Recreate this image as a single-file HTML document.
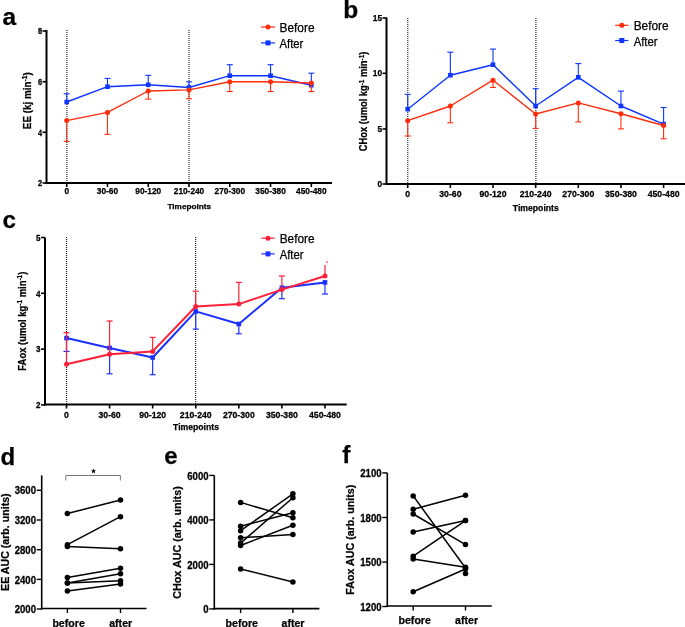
<!DOCTYPE html><html><head><meta charset="utf-8"><style>html,body{margin:0;padding:0;background:#fff;overflow:hidden}svg{display:block;will-change:transform}text{font-family:"Liberation Sans",sans-serif;stroke:#000;stroke-width:0.25px}</style></head><body>
<svg width="685" height="627" viewBox="0 0 685 627">
<rect width="685" height="627" fill="#fff"/>
<text x="2.50" y="25.30" font-size="24.5" text-anchor="start" font-weight="bold" fill="#000" >a</text>
<text x="343.30" y="18.00" font-size="24.5" text-anchor="start" font-weight="bold" fill="#000" >b</text>
<text x="2.50" y="228.40" font-size="24.2" text-anchor="start" font-weight="bold" fill="#000" >c</text>
<text x="0.50" y="465.30" font-size="24" text-anchor="start" font-weight="bold" fill="#000" >d</text>
<text x="164.30" y="463.90" font-size="24" text-anchor="start" font-weight="bold" fill="#000" >e</text>
<text x="342.20" y="462.70" font-size="24.5" text-anchor="start" font-weight="bold" fill="#000" >f</text>
<line x1="66.90" y1="30.00" x2="66.90" y2="183.00" stroke="#000" stroke-width="1" stroke-dasharray="1 1"/>
<line x1="189.00" y1="30.00" x2="189.00" y2="183.00" stroke="#000" stroke-width="1" stroke-dasharray="1 1"/>
<line x1="46.50" y1="30.00" x2="46.50" y2="184.00" stroke="#000" stroke-width="2" />
<line x1="45.50" y1="183.00" x2="332.00" y2="183.00" stroke="#000" stroke-width="2" />
<line x1="42.50" y1="31.00" x2="46.50" y2="31.00" stroke="#000" stroke-width="1.6" />
<text x="0" y="0" font-size="7.4" text-anchor="end" font-weight="bold" fill="#000" transform="translate(42.00 34.45) scale(1 1.22)" >8</text>
<line x1="42.50" y1="81.70" x2="46.50" y2="81.70" stroke="#000" stroke-width="1.6" />
<text x="0" y="0" font-size="7.4" text-anchor="end" font-weight="bold" fill="#000" transform="translate(42.00 85.15) scale(1 1.22)" >6</text>
<line x1="42.50" y1="132.30" x2="46.50" y2="132.30" stroke="#000" stroke-width="1.6" />
<text x="0" y="0" font-size="7.4" text-anchor="end" font-weight="bold" fill="#000" transform="translate(42.00 135.75) scale(1 1.22)" >4</text>
<line x1="42.50" y1="183.00" x2="46.50" y2="183.00" stroke="#000" stroke-width="1.6" />
<text x="0" y="0" font-size="7.4" text-anchor="end" font-weight="bold" fill="#000" transform="translate(42.00 186.45) scale(1 1.22)" >2</text>
<line x1="66.70" y1="183.00" x2="66.70" y2="187.00" stroke="#000" stroke-width="1.6" />
<text x="66.70" y="194.20" font-size="8.3" text-anchor="middle" font-weight="bold" fill="#000" >0</text>
<line x1="107.47" y1="183.00" x2="107.47" y2="187.00" stroke="#000" stroke-width="1.6" />
<text x="107.47" y="194.20" font-size="8.3" text-anchor="middle" font-weight="bold" fill="#000" >30-60</text>
<line x1="148.24" y1="183.00" x2="148.24" y2="187.00" stroke="#000" stroke-width="1.6" />
<text x="148.24" y="194.20" font-size="8.3" text-anchor="middle" font-weight="bold" fill="#000" >90-120</text>
<line x1="189.01" y1="183.00" x2="189.01" y2="187.00" stroke="#000" stroke-width="1.6" />
<text x="189.01" y="194.20" font-size="8.3" text-anchor="middle" font-weight="bold" fill="#000" >210-240</text>
<line x1="229.78" y1="183.00" x2="229.78" y2="187.00" stroke="#000" stroke-width="1.6" />
<text x="229.78" y="194.20" font-size="8.3" text-anchor="middle" font-weight="bold" fill="#000" >270-300</text>
<line x1="270.55" y1="183.00" x2="270.55" y2="187.00" stroke="#000" stroke-width="1.6" />
<text x="270.55" y="194.20" font-size="8.3" text-anchor="middle" font-weight="bold" fill="#000" >350-380</text>
<line x1="311.32" y1="183.00" x2="311.32" y2="187.00" stroke="#000" stroke-width="1.6" />
<text x="311.32" y="194.20" font-size="8.3" text-anchor="middle" font-weight="bold" fill="#000" >450-480</text>
<text x="189.25" y="208.70" font-size="7.8" text-anchor="middle" font-weight="bold" fill="#000" textLength="43.5" lengthAdjust="spacingAndGlyphs" >Timepoints</text>
<g transform="translate(31.00 100.70) rotate(-90)"><text x="0" y="0" font-size="11.2" text-anchor="middle" font-weight="bold" textLength="57" lengthAdjust="spacingAndGlyphs"><tspan dy="0.00">EE (kj min</tspan><tspan dy="-3.58" font-size="7.62">-1</tspan><tspan dy="3.58">)</tspan></text></g>
<line x1="66.70" y1="102.00" x2="66.70" y2="93.80" stroke="#0d35ff" stroke-width="1.1" />
<line x1="63.70" y1="93.80" x2="69.70" y2="93.80" stroke="#0d35ff" stroke-width="1.1" />
<line x1="107.47" y1="86.70" x2="107.47" y2="78.40" stroke="#0d35ff" stroke-width="1.1" />
<line x1="104.47" y1="78.40" x2="110.47" y2="78.40" stroke="#0d35ff" stroke-width="1.1" />
<line x1="148.24" y1="84.80" x2="148.24" y2="75.30" stroke="#0d35ff" stroke-width="1.1" />
<line x1="145.24" y1="75.30" x2="151.24" y2="75.30" stroke="#0d35ff" stroke-width="1.1" />
<line x1="189.01" y1="87.50" x2="189.01" y2="81.80" stroke="#0d35ff" stroke-width="1.1" />
<line x1="186.01" y1="81.80" x2="192.01" y2="81.80" stroke="#0d35ff" stroke-width="1.1" />
<line x1="229.78" y1="75.70" x2="229.78" y2="64.70" stroke="#0d35ff" stroke-width="1.1" />
<line x1="226.78" y1="64.70" x2="232.78" y2="64.70" stroke="#0d35ff" stroke-width="1.1" />
<line x1="270.55" y1="75.70" x2="270.55" y2="64.70" stroke="#0d35ff" stroke-width="1.1" />
<line x1="267.55" y1="64.70" x2="273.55" y2="64.70" stroke="#0d35ff" stroke-width="1.1" />
<line x1="311.32" y1="85.20" x2="311.32" y2="73.20" stroke="#0d35ff" stroke-width="1.1" />
<line x1="308.32" y1="73.20" x2="314.32" y2="73.20" stroke="#0d35ff" stroke-width="1.1" />
<polyline points="66.70,102.00 107.47,86.70 148.24,84.80 189.01,87.50 229.78,75.70 270.55,75.70 311.32,85.20" fill="none" stroke="#0d35ff" stroke-width="1.4" stroke-linejoin="round"/>
<rect x="64.40" y="99.70" width="4.6" height="4.6" fill="#0d35ff"/>
<rect x="105.17" y="84.40" width="4.6" height="4.6" fill="#0d35ff"/>
<rect x="145.94" y="82.50" width="4.6" height="4.6" fill="#0d35ff"/>
<rect x="186.71" y="85.20" width="4.6" height="4.6" fill="#0d35ff"/>
<rect x="227.48" y="73.40" width="4.6" height="4.6" fill="#0d35ff"/>
<rect x="268.25" y="73.40" width="4.6" height="4.6" fill="#0d35ff"/>
<rect x="309.02" y="82.90" width="4.6" height="4.6" fill="#0d35ff"/>
<line x1="66.70" y1="120.60" x2="66.70" y2="141.40" stroke="#ff2c0c" stroke-width="1.1" />
<line x1="63.70" y1="141.40" x2="69.70" y2="141.40" stroke="#ff2c0c" stroke-width="1.1" />
<line x1="107.47" y1="112.40" x2="107.47" y2="134.30" stroke="#ff2c0c" stroke-width="1.1" />
<line x1="104.47" y1="134.30" x2="110.47" y2="134.30" stroke="#ff2c0c" stroke-width="1.1" />
<line x1="148.24" y1="91.00" x2="148.24" y2="99.10" stroke="#ff2c0c" stroke-width="1.1" />
<line x1="145.24" y1="99.10" x2="151.24" y2="99.10" stroke="#ff2c0c" stroke-width="1.1" />
<line x1="189.01" y1="89.90" x2="189.01" y2="98.70" stroke="#ff2c0c" stroke-width="1.1" />
<line x1="186.01" y1="98.70" x2="192.01" y2="98.70" stroke="#ff2c0c" stroke-width="1.1" />
<line x1="229.78" y1="81.70" x2="229.78" y2="91.50" stroke="#ff2c0c" stroke-width="1.1" />
<line x1="226.78" y1="91.50" x2="232.78" y2="91.50" stroke="#ff2c0c" stroke-width="1.1" />
<line x1="270.55" y1="81.70" x2="270.55" y2="91.50" stroke="#ff2c0c" stroke-width="1.1" />
<line x1="267.55" y1="91.50" x2="273.55" y2="91.50" stroke="#ff2c0c" stroke-width="1.1" />
<line x1="311.32" y1="83.00" x2="311.32" y2="91.50" stroke="#ff2c0c" stroke-width="1.1" />
<line x1="308.32" y1="91.50" x2="314.32" y2="91.50" stroke="#ff2c0c" stroke-width="1.1" />
<polyline points="66.70,120.60 107.47,112.40 148.24,91.00 189.01,89.90 229.78,81.70 270.55,81.70 311.32,83.00" fill="none" stroke="#ff2c0c" stroke-width="1.4" stroke-linejoin="round"/>
<circle cx="66.70" cy="120.60" r="2.5" fill="#ff2c0c"/>
<circle cx="107.47" cy="112.40" r="2.5" fill="#ff2c0c"/>
<circle cx="148.24" cy="91.00" r="2.5" fill="#ff2c0c"/>
<circle cx="189.01" cy="89.90" r="2.5" fill="#ff2c0c"/>
<circle cx="229.78" cy="81.70" r="2.5" fill="#ff2c0c"/>
<circle cx="270.55" cy="81.70" r="2.5" fill="#ff2c0c"/>
<circle cx="311.32" cy="83.00" r="2.5" fill="#ff2c0c"/>
<line x1="261.00" y1="27.00" x2="275.00" y2="27.00" stroke="#ff2c0c" stroke-width="1.2" />
<circle cx="268.00" cy="27.00" r="2.5" fill="#ff2c0c"/>
<line x1="261.00" y1="42.90" x2="275.00" y2="42.90" stroke="#0d35ff" stroke-width="1.2" />
<rect x="265.50" y="40.40" width="5.0" height="5.0" fill="#0d35ff"/>
<text x="279.50" y="31.90" font-size="12" text-anchor="start" font-weight="normal" fill="#000" textLength="35" lengthAdjust="spacingAndGlyphs" >Before</text>
<text x="279.50" y="48.00" font-size="12" text-anchor="start" font-weight="normal" fill="#000" textLength="23.8" lengthAdjust="spacingAndGlyphs" >After</text>
<line x1="407.80" y1="18.00" x2="407.80" y2="184.00" stroke="#000" stroke-width="1" stroke-dasharray="1 1"/>
<line x1="535.90" y1="18.00" x2="535.90" y2="184.00" stroke="#000" stroke-width="1" stroke-dasharray="1 1"/>
<line x1="386.50" y1="17.50" x2="386.50" y2="185.00" stroke="#000" stroke-width="2" />
<line x1="385.50" y1="184.00" x2="686.00" y2="184.00" stroke="#000" stroke-width="2" />
<line x1="382.50" y1="18.00" x2="386.50" y2="18.00" stroke="#000" stroke-width="1.6" />
<text x="382.00" y="20.99" font-size="8.3" text-anchor="end" font-weight="bold" fill="#000" >15</text>
<line x1="382.50" y1="73.30" x2="386.50" y2="73.30" stroke="#000" stroke-width="1.6" />
<text x="382.00" y="76.29" font-size="8.3" text-anchor="end" font-weight="bold" fill="#000" >10</text>
<line x1="382.50" y1="129.00" x2="386.50" y2="129.00" stroke="#000" stroke-width="1.6" />
<text x="382.00" y="131.99" font-size="8.3" text-anchor="end" font-weight="bold" fill="#000" >5</text>
<line x1="382.50" y1="184.00" x2="386.50" y2="184.00" stroke="#000" stroke-width="1.6" />
<text x="382.00" y="186.99" font-size="8.3" text-anchor="end" font-weight="bold" fill="#000" >0</text>
<line x1="407.70" y1="184.00" x2="407.70" y2="188.00" stroke="#000" stroke-width="1.6" />
<text x="0" y="0" font-size="8.7" text-anchor="middle" font-weight="bold" fill="#000" transform="translate(407.70 196.80) scale(1 1.08)" >0</text>
<line x1="450.35" y1="184.00" x2="450.35" y2="188.00" stroke="#000" stroke-width="1.6" />
<text x="0" y="0" font-size="8.7" text-anchor="middle" font-weight="bold" fill="#000" transform="translate(450.35 196.80) scale(1 1.08)" >30-60</text>
<line x1="493.00" y1="184.00" x2="493.00" y2="188.00" stroke="#000" stroke-width="1.6" />
<text x="0" y="0" font-size="8.7" text-anchor="middle" font-weight="bold" fill="#000" transform="translate(493.00 196.80) scale(1 1.08)" >90-120</text>
<line x1="535.65" y1="184.00" x2="535.65" y2="188.00" stroke="#000" stroke-width="1.6" />
<text x="0" y="0" font-size="8.7" text-anchor="middle" font-weight="bold" fill="#000" transform="translate(535.65 196.80) scale(1 1.08)" >210-240</text>
<line x1="578.30" y1="184.00" x2="578.30" y2="188.00" stroke="#000" stroke-width="1.6" />
<text x="0" y="0" font-size="8.7" text-anchor="middle" font-weight="bold" fill="#000" transform="translate(578.30 196.80) scale(1 1.08)" >270-300</text>
<line x1="620.95" y1="184.00" x2="620.95" y2="188.00" stroke="#000" stroke-width="1.6" />
<text x="0" y="0" font-size="8.7" text-anchor="middle" font-weight="bold" fill="#000" transform="translate(620.95 196.80) scale(1 1.08)" >350-380</text>
<line x1="663.60" y1="184.00" x2="663.60" y2="188.00" stroke="#000" stroke-width="1.6" />
<text x="0" y="0" font-size="8.7" text-anchor="middle" font-weight="bold" fill="#000" transform="translate(663.60 196.80) scale(1 1.08)" >450-480</text>
<text x="535.80" y="210.50" font-size="8.7" text-anchor="middle" font-weight="bold" fill="#000" textLength="46" lengthAdjust="spacingAndGlyphs" >Timepoints</text>
<g transform="translate(367.00 101.40) rotate(-90)"><text x="0" y="0" font-size="10.3" text-anchor="middle" font-weight="bold" textLength="99.5" lengthAdjust="spacingAndGlyphs"><tspan dy="0.00">CHox (umol kg</tspan><tspan dy="-3.30" font-size="7.00">-1</tspan><tspan dy="3.30">&#160;min</tspan><tspan dy="-3.30" font-size="7.00">-1</tspan><tspan dy="3.30">)</tspan></text></g>
<line x1="407.70" y1="109.20" x2="407.70" y2="94.40" stroke="#0d35ff" stroke-width="1.1" />
<line x1="404.70" y1="94.40" x2="410.70" y2="94.40" stroke="#0d35ff" stroke-width="1.1" />
<line x1="450.35" y1="75.20" x2="450.35" y2="52.20" stroke="#0d35ff" stroke-width="1.1" />
<line x1="447.35" y1="52.20" x2="453.35" y2="52.20" stroke="#0d35ff" stroke-width="1.1" />
<line x1="493.00" y1="64.70" x2="493.00" y2="49.10" stroke="#0d35ff" stroke-width="1.1" />
<line x1="490.00" y1="49.10" x2="496.00" y2="49.10" stroke="#0d35ff" stroke-width="1.1" />
<line x1="535.65" y1="106.00" x2="535.65" y2="88.70" stroke="#0d35ff" stroke-width="1.1" />
<line x1="532.65" y1="88.70" x2="538.65" y2="88.70" stroke="#0d35ff" stroke-width="1.1" />
<line x1="578.30" y1="77.30" x2="578.30" y2="63.60" stroke="#0d35ff" stroke-width="1.1" />
<line x1="575.30" y1="63.60" x2="581.30" y2="63.60" stroke="#0d35ff" stroke-width="1.1" />
<line x1="620.95" y1="106.00" x2="620.95" y2="91.10" stroke="#0d35ff" stroke-width="1.1" />
<line x1="617.95" y1="91.10" x2="623.95" y2="91.10" stroke="#0d35ff" stroke-width="1.1" />
<line x1="663.60" y1="124.10" x2="663.60" y2="107.50" stroke="#0d35ff" stroke-width="1.1" />
<line x1="660.60" y1="107.50" x2="666.60" y2="107.50" stroke="#0d35ff" stroke-width="1.1" />
<polyline points="407.70,109.20 450.35,75.20 493.00,64.70 535.65,106.00 578.30,77.30 620.95,106.00 663.60,124.10" fill="none" stroke="#0d35ff" stroke-width="1.4" stroke-linejoin="round"/>
<rect x="405.40" y="106.90" width="4.6" height="4.6" fill="#0d35ff"/>
<rect x="448.05" y="72.90" width="4.6" height="4.6" fill="#0d35ff"/>
<rect x="490.70" y="62.40" width="4.6" height="4.6" fill="#0d35ff"/>
<rect x="533.35" y="103.70" width="4.6" height="4.6" fill="#0d35ff"/>
<rect x="576.00" y="75.00" width="4.6" height="4.6" fill="#0d35ff"/>
<rect x="618.65" y="103.70" width="4.6" height="4.6" fill="#0d35ff"/>
<rect x="661.30" y="121.80" width="4.6" height="4.6" fill="#0d35ff"/>
<line x1="407.70" y1="120.70" x2="407.70" y2="136.00" stroke="#ff2c0c" stroke-width="1.1" />
<line x1="404.70" y1="136.00" x2="410.70" y2="136.00" stroke="#ff2c0c" stroke-width="1.1" />
<line x1="450.35" y1="106.00" x2="450.35" y2="122.80" stroke="#ff2c0c" stroke-width="1.1" />
<line x1="447.35" y1="122.80" x2="453.35" y2="122.80" stroke="#ff2c0c" stroke-width="1.1" />
<line x1="493.00" y1="80.20" x2="493.00" y2="87.40" stroke="#ff2c0c" stroke-width="1.1" />
<line x1="490.00" y1="87.40" x2="496.00" y2="87.40" stroke="#ff2c0c" stroke-width="1.1" />
<line x1="535.65" y1="114.00" x2="535.65" y2="128.40" stroke="#ff2c0c" stroke-width="1.1" />
<line x1="532.65" y1="128.40" x2="538.65" y2="128.40" stroke="#ff2c0c" stroke-width="1.1" />
<line x1="578.30" y1="102.90" x2="578.30" y2="121.90" stroke="#ff2c0c" stroke-width="1.1" />
<line x1="575.30" y1="121.90" x2="581.30" y2="121.90" stroke="#ff2c0c" stroke-width="1.1" />
<line x1="620.95" y1="113.70" x2="620.95" y2="128.90" stroke="#ff2c0c" stroke-width="1.1" />
<line x1="617.95" y1="128.90" x2="623.95" y2="128.90" stroke="#ff2c0c" stroke-width="1.1" />
<line x1="663.60" y1="125.50" x2="663.60" y2="138.80" stroke="#ff2c0c" stroke-width="1.1" />
<line x1="660.60" y1="138.80" x2="666.60" y2="138.80" stroke="#ff2c0c" stroke-width="1.1" />
<polyline points="407.70,120.70 450.35,106.00 493.00,80.20 535.65,114.00 578.30,102.90 620.95,113.70 663.60,125.50" fill="none" stroke="#ff2c0c" stroke-width="1.4" stroke-linejoin="round"/>
<circle cx="407.70" cy="120.70" r="2.5" fill="#ff2c0c"/>
<circle cx="450.35" cy="106.00" r="2.5" fill="#ff2c0c"/>
<circle cx="493.00" cy="80.20" r="2.5" fill="#ff2c0c"/>
<circle cx="535.65" cy="114.00" r="2.5" fill="#ff2c0c"/>
<circle cx="578.30" cy="102.90" r="2.5" fill="#ff2c0c"/>
<circle cx="620.95" cy="113.70" r="2.5" fill="#ff2c0c"/>
<circle cx="663.60" cy="125.50" r="2.5" fill="#ff2c0c"/>
<line x1="615.20" y1="25.30" x2="628.40" y2="25.30" stroke="#ff2c0c" stroke-width="1.2" />
<circle cx="621.80" cy="25.30" r="2.5" fill="#ff2c0c"/>
<line x1="615.20" y1="40.50" x2="628.40" y2="40.50" stroke="#0d35ff" stroke-width="1.2" />
<rect x="619.30" y="38.00" width="5.0" height="5.0" fill="#0d35ff"/>
<text x="633.70" y="29.80" font-size="12" text-anchor="start" font-weight="normal" fill="#000" textLength="35" lengthAdjust="spacingAndGlyphs" >Before</text>
<text x="633.70" y="45.90" font-size="12" text-anchor="start" font-weight="normal" fill="#000" textLength="23.8" lengthAdjust="spacingAndGlyphs" >After</text>
<line x1="66.60" y1="237.00" x2="66.60" y2="404.50" stroke="#000" stroke-width="1" stroke-dasharray="1 1"/>
<line x1="195.60" y1="237.00" x2="195.60" y2="404.50" stroke="#000" stroke-width="1" stroke-dasharray="1 1"/>
<line x1="45.00" y1="237.40" x2="45.00" y2="405.50" stroke="#000" stroke-width="2" />
<line x1="44.00" y1="404.50" x2="346.70" y2="404.50" stroke="#000" stroke-width="2" />
<line x1="41.00" y1="237.50" x2="45.00" y2="237.50" stroke="#000" stroke-width="1.6" />
<text x="0" y="0" font-size="8.0" text-anchor="end" font-weight="bold" fill="#000" transform="translate(40.50 240.73) scale(1 1.12)" >5</text>
<line x1="41.00" y1="293.30" x2="45.00" y2="293.30" stroke="#000" stroke-width="1.6" />
<text x="0" y="0" font-size="8.0" text-anchor="end" font-weight="bold" fill="#000" transform="translate(40.50 296.53) scale(1 1.12)" >4</text>
<line x1="41.00" y1="349.10" x2="45.00" y2="349.10" stroke="#000" stroke-width="1.6" />
<text x="0" y="0" font-size="8.0" text-anchor="end" font-weight="bold" fill="#000" transform="translate(40.50 352.33) scale(1 1.12)" >3</text>
<line x1="41.00" y1="404.90" x2="45.00" y2="404.90" stroke="#000" stroke-width="1.6" />
<text x="0" y="0" font-size="8.0" text-anchor="end" font-weight="bold" fill="#000" transform="translate(40.50 408.13) scale(1 1.12)" >2</text>
<line x1="66.50" y1="404.50" x2="66.50" y2="408.50" stroke="#000" stroke-width="1.6" />
<text x="0" y="0" font-size="8.7" text-anchor="middle" font-weight="bold" fill="#000" transform="translate(66.50 417.60) scale(1 1.12)" >0</text>
<line x1="109.58" y1="404.50" x2="109.58" y2="408.50" stroke="#000" stroke-width="1.6" />
<text x="0" y="0" font-size="8.7" text-anchor="middle" font-weight="bold" fill="#000" transform="translate(109.58 417.60) scale(1 1.12)" >30-60</text>
<line x1="152.66" y1="404.50" x2="152.66" y2="408.50" stroke="#000" stroke-width="1.6" />
<text x="0" y="0" font-size="8.7" text-anchor="middle" font-weight="bold" fill="#000" transform="translate(152.66 417.60) scale(1 1.12)" >90-120</text>
<line x1="195.74" y1="404.50" x2="195.74" y2="408.50" stroke="#000" stroke-width="1.6" />
<text x="0" y="0" font-size="8.7" text-anchor="middle" font-weight="bold" fill="#000" transform="translate(195.74 417.60) scale(1 1.12)" >210-240</text>
<line x1="238.82" y1="404.50" x2="238.82" y2="408.50" stroke="#000" stroke-width="1.6" />
<text x="0" y="0" font-size="8.7" text-anchor="middle" font-weight="bold" fill="#000" transform="translate(238.82 417.60) scale(1 1.12)" >270-300</text>
<line x1="281.90" y1="404.50" x2="281.90" y2="408.50" stroke="#000" stroke-width="1.6" />
<text x="0" y="0" font-size="8.7" text-anchor="middle" font-weight="bold" fill="#000" transform="translate(281.90 417.60) scale(1 1.12)" >350-380</text>
<line x1="324.98" y1="404.50" x2="324.98" y2="408.50" stroke="#000" stroke-width="1.6" />
<text x="0" y="0" font-size="8.7" text-anchor="middle" font-weight="bold" fill="#000" transform="translate(324.98 417.60) scale(1 1.12)" >450-480</text>
<text x="196.00" y="430.20" font-size="8.7" text-anchor="middle" font-weight="bold" fill="#000" textLength="46" lengthAdjust="spacingAndGlyphs" >Timepoints</text>
<g transform="translate(25.70 321.15) rotate(-90)"><text x="0" y="0" font-size="10.3" text-anchor="middle" font-weight="bold" textLength="99" lengthAdjust="spacingAndGlyphs"><tspan dy="0.00">FAox (umol kg</tspan><tspan dy="-3.30" font-size="7.00">-1</tspan><tspan dy="3.30">&#160;min</tspan><tspan dy="-3.30" font-size="7.00">-1</tspan><tspan dy="3.30">)</tspan></text></g>
<line x1="66.50" y1="338.10" x2="66.50" y2="351.40" stroke="#1a30ff" stroke-width="1.2" />
<line x1="63.50" y1="351.40" x2="69.50" y2="351.40" stroke="#1a30ff" stroke-width="1.2" />
<line x1="109.58" y1="347.90" x2="109.58" y2="373.80" stroke="#1a30ff" stroke-width="1.2" />
<line x1="106.58" y1="373.80" x2="112.58" y2="373.80" stroke="#1a30ff" stroke-width="1.2" />
<line x1="152.66" y1="357.50" x2="152.66" y2="374.70" stroke="#1a30ff" stroke-width="1.2" />
<line x1="149.66" y1="374.70" x2="155.66" y2="374.70" stroke="#1a30ff" stroke-width="1.2" />
<line x1="195.74" y1="311.40" x2="195.74" y2="329.10" stroke="#1a30ff" stroke-width="1.2" />
<line x1="192.74" y1="329.10" x2="198.74" y2="329.10" stroke="#1a30ff" stroke-width="1.2" />
<line x1="238.82" y1="324.00" x2="238.82" y2="333.80" stroke="#1a30ff" stroke-width="1.2" />
<line x1="235.82" y1="333.80" x2="241.82" y2="333.80" stroke="#1a30ff" stroke-width="1.2" />
<line x1="281.90" y1="287.70" x2="281.90" y2="298.70" stroke="#1a30ff" stroke-width="1.2" />
<line x1="278.90" y1="298.70" x2="284.90" y2="298.70" stroke="#1a30ff" stroke-width="1.2" />
<line x1="324.98" y1="282.40" x2="324.98" y2="294.00" stroke="#1a30ff" stroke-width="1.2" />
<line x1="321.98" y1="294.00" x2="327.98" y2="294.00" stroke="#1a30ff" stroke-width="1.2" />
<polyline points="66.50,338.10 109.58,347.90 152.66,357.50 195.74,311.40 238.82,324.00 281.90,287.70 324.98,282.40" fill="none" stroke="#1a30ff" stroke-width="2" stroke-linejoin="round"/>
<rect x="64.20" y="335.80" width="4.6" height="4.6" fill="#1a30ff"/>
<rect x="107.28" y="345.60" width="4.6" height="4.6" fill="#1a30ff"/>
<rect x="150.36" y="355.20" width="4.6" height="4.6" fill="#1a30ff"/>
<rect x="193.44" y="309.10" width="4.6" height="4.6" fill="#1a30ff"/>
<rect x="236.52" y="321.70" width="4.6" height="4.6" fill="#1a30ff"/>
<rect x="279.60" y="285.40" width="4.6" height="4.6" fill="#1a30ff"/>
<rect x="322.68" y="280.10" width="4.6" height="4.6" fill="#1a30ff"/>
<line x1="66.50" y1="364.20" x2="66.50" y2="332.70" stroke="#ff1f38" stroke-width="1.2" />
<line x1="63.50" y1="332.70" x2="69.50" y2="332.70" stroke="#ff1f38" stroke-width="1.2" />
<line x1="109.58" y1="354.20" x2="109.58" y2="321.00" stroke="#ff1f38" stroke-width="1.2" />
<line x1="106.58" y1="321.00" x2="112.58" y2="321.00" stroke="#ff1f38" stroke-width="1.2" />
<line x1="152.66" y1="351.40" x2="152.66" y2="337.40" stroke="#ff1f38" stroke-width="1.2" />
<line x1="149.66" y1="337.40" x2="155.66" y2="337.40" stroke="#ff1f38" stroke-width="1.2" />
<line x1="195.74" y1="306.50" x2="195.74" y2="291.20" stroke="#ff1f38" stroke-width="1.2" />
<line x1="192.74" y1="291.20" x2="198.74" y2="291.20" stroke="#ff1f38" stroke-width="1.2" />
<line x1="238.82" y1="304.10" x2="238.82" y2="282.40" stroke="#ff1f38" stroke-width="1.2" />
<line x1="235.82" y1="282.40" x2="241.82" y2="282.40" stroke="#ff1f38" stroke-width="1.2" />
<line x1="281.90" y1="289.60" x2="281.90" y2="276.00" stroke="#ff1f38" stroke-width="1.2" />
<line x1="278.90" y1="276.00" x2="284.90" y2="276.00" stroke="#ff1f38" stroke-width="1.2" />
<line x1="324.98" y1="276.00" x2="324.98" y2="265.00" stroke="#ff1f38" stroke-width="1.2" />
<polyline points="66.50,364.20 109.58,354.20 152.66,351.40 195.74,306.50 238.82,304.10 281.90,289.60 324.98,276.00" fill="none" stroke="#ff1f38" stroke-width="2" stroke-linejoin="round"/>
<circle cx="66.50" cy="364.20" r="2.5" fill="#ff1f38"/>
<circle cx="109.58" cy="354.20" r="2.5" fill="#ff1f38"/>
<circle cx="152.66" cy="351.40" r="2.5" fill="#ff1f38"/>
<circle cx="195.74" cy="306.50" r="2.5" fill="#ff1f38"/>
<circle cx="238.82" cy="304.10" r="2.5" fill="#ff1f38"/>
<circle cx="281.90" cy="289.60" r="2.5" fill="#ff1f38"/>
<circle cx="324.98" cy="276.00" r="2.5" fill="#ff1f38"/>
<line x1="261.30" y1="238.20" x2="274.60" y2="238.20" stroke="#ff1f38" stroke-width="1.2" />
<circle cx="267.95" cy="238.20" r="2.5" fill="#ff1f38"/>
<line x1="261.30" y1="253.90" x2="274.60" y2="253.90" stroke="#1a30ff" stroke-width="1.2" />
<rect x="265.45" y="251.40" width="5.0" height="5.0" fill="#1a30ff"/>
<text x="279.70" y="242.80" font-size="12" text-anchor="start" font-weight="normal" fill="#000" textLength="35" lengthAdjust="spacingAndGlyphs" >Before</text>
<text x="279.70" y="258.90" font-size="12" text-anchor="start" font-weight="normal" fill="#000" textLength="23.8" lengthAdjust="spacingAndGlyphs" >After</text>
<rect x="326.2" y="261.3" width="1.4" height="1.4" fill="#ff1f38"/>
<line x1="41.70" y1="475.40" x2="41.70" y2="609.50" stroke="#000" stroke-width="1.6" />
<line x1="40.90" y1="608.50" x2="146.50" y2="608.50" stroke="#000" stroke-width="1.6" />
<line x1="36.70" y1="490.30" x2="41.70" y2="490.30" stroke="#000" stroke-width="1.4" />
<text x="0" y="0" font-size="9.6" text-anchor="end" font-weight="bold" fill="#000" transform="translate(36.00 494.48) scale(1 1.18)" >3600</text>
<line x1="36.70" y1="520.00" x2="41.70" y2="520.00" stroke="#000" stroke-width="1.4" />
<text x="0" y="0" font-size="9.6" text-anchor="end" font-weight="bold" fill="#000" transform="translate(36.00 524.18) scale(1 1.18)" >3200</text>
<line x1="36.70" y1="549.70" x2="41.70" y2="549.70" stroke="#000" stroke-width="1.4" />
<text x="0" y="0" font-size="9.6" text-anchor="end" font-weight="bold" fill="#000" transform="translate(36.00 553.88) scale(1 1.18)" >2800</text>
<line x1="36.70" y1="579.40" x2="41.70" y2="579.40" stroke="#000" stroke-width="1.4" />
<text x="0" y="0" font-size="9.6" text-anchor="end" font-weight="bold" fill="#000" transform="translate(36.00 583.58) scale(1 1.18)" >2400</text>
<line x1="36.70" y1="609.00" x2="41.70" y2="609.00" stroke="#000" stroke-width="1.4" />
<text x="0" y="0" font-size="9.6" text-anchor="end" font-weight="bold" fill="#000" transform="translate(36.00 613.18) scale(1 1.18)" >2000</text>
<line x1="67.40" y1="608.50" x2="67.40" y2="613.00" stroke="#000" stroke-width="1.4" />
<line x1="120.50" y1="608.50" x2="120.50" y2="613.00" stroke="#000" stroke-width="1.4" />
<text x="68.60" y="626.60" font-size="10.6" text-anchor="middle" font-weight="bold" fill="#000" >before</text>
<text x="120.70" y="626.60" font-size="10.6" text-anchor="middle" font-weight="bold" fill="#000" >after</text>
<g transform="translate(8.70 542.15) rotate(-90)"><text x="0" y="0" font-size="10.4" text-anchor="middle" font-weight="bold" textLength="97.5" lengthAdjust="spacingAndGlyphs">EE AUC (arb. units)</text></g>
<line x1="67.40" y1="513.50" x2="120.50" y2="500.00" stroke="#000" stroke-width="1.5" />
<line x1="67.40" y1="544.70" x2="120.50" y2="516.70" stroke="#000" stroke-width="1.5" />
<line x1="67.40" y1="546.60" x2="120.50" y2="548.70" stroke="#000" stroke-width="1.5" />
<line x1="67.40" y1="577.50" x2="120.50" y2="568.20" stroke="#000" stroke-width="1.5" />
<line x1="67.40" y1="583.10" x2="120.50" y2="573.70" stroke="#000" stroke-width="1.5" />
<line x1="67.40" y1="583.10" x2="120.50" y2="580.70" stroke="#000" stroke-width="1.5" />
<line x1="67.40" y1="591.10" x2="120.50" y2="584.10" stroke="#000" stroke-width="1.5" />
<circle cx="67.40" cy="513.50" r="2.75" fill="#000"/>
<circle cx="120.50" cy="500.00" r="2.75" fill="#000"/>
<circle cx="67.40" cy="544.70" r="2.75" fill="#000"/>
<circle cx="120.50" cy="516.70" r="2.75" fill="#000"/>
<circle cx="67.40" cy="546.60" r="2.75" fill="#000"/>
<circle cx="120.50" cy="548.70" r="2.75" fill="#000"/>
<circle cx="67.40" cy="577.50" r="2.75" fill="#000"/>
<circle cx="120.50" cy="568.20" r="2.75" fill="#000"/>
<circle cx="67.40" cy="583.10" r="2.75" fill="#000"/>
<circle cx="120.50" cy="573.70" r="2.75" fill="#000"/>
<circle cx="67.40" cy="583.10" r="2.75" fill="#000"/>
<circle cx="120.50" cy="580.70" r="2.75" fill="#000"/>
<circle cx="67.40" cy="591.10" r="2.75" fill="#000"/>
<circle cx="120.50" cy="584.10" r="2.75" fill="#000"/>
<path d="M65.8 480.5 V475.5 H120.4 V480.5" fill="none" stroke="#777" stroke-width="1"/>
<polygon points="93.50,468.50 94.18,470.27 96.07,470.37 94.59,471.56 95.09,473.38 93.50,472.35 91.91,473.38 92.41,471.56 90.93,470.37 92.82,470.27" fill="#000"/>
<line x1="214.30" y1="475.40" x2="214.30" y2="609.60" stroke="#000" stroke-width="1.6" />
<line x1="213.50" y1="608.60" x2="319.40" y2="608.60" stroke="#000" stroke-width="1.6" />
<line x1="209.30" y1="475.40" x2="214.30" y2="475.40" stroke="#000" stroke-width="1.4" />
<text x="0" y="0" font-size="9.6" text-anchor="end" font-weight="bold" fill="#000" transform="translate(208.60 479.58) scale(1 1.18)" >6000</text>
<line x1="209.30" y1="519.90" x2="214.30" y2="519.90" stroke="#000" stroke-width="1.4" />
<text x="0" y="0" font-size="9.6" text-anchor="end" font-weight="bold" fill="#000" transform="translate(208.60 524.08) scale(1 1.18)" >4000</text>
<line x1="209.30" y1="564.40" x2="214.30" y2="564.40" stroke="#000" stroke-width="1.4" />
<text x="0" y="0" font-size="9.6" text-anchor="end" font-weight="bold" fill="#000" transform="translate(208.60 568.58) scale(1 1.18)" >2000</text>
<line x1="209.30" y1="608.90" x2="214.30" y2="608.90" stroke="#000" stroke-width="1.4" />
<text x="0" y="0" font-size="9.6" text-anchor="end" font-weight="bold" fill="#000" transform="translate(208.60 613.08) scale(1 1.18)" >0</text>
<line x1="240.60" y1="608.60" x2="240.60" y2="613.10" stroke="#000" stroke-width="1.4" />
<line x1="292.90" y1="608.60" x2="292.90" y2="613.10" stroke="#000" stroke-width="1.4" />
<text x="241.80" y="626.80" font-size="10.6" text-anchor="middle" font-weight="bold" fill="#000" >before</text>
<text x="293.00" y="626.80" font-size="10.6" text-anchor="middle" font-weight="bold" fill="#000" >after</text>
<g transform="translate(181.10 542.50) rotate(-90)"><text x="0" y="0" font-size="11.2" text-anchor="middle" font-weight="bold" textLength="112.5" lengthAdjust="spacingAndGlyphs">CHox AUC (arb. units)</text></g>
<line x1="240.60" y1="502.40" x2="292.90" y2="517.80" stroke="#000" stroke-width="1.5" />
<line x1="240.60" y1="526.20" x2="292.90" y2="512.80" stroke="#000" stroke-width="1.5" />
<line x1="240.60" y1="530.70" x2="292.90" y2="493.80" stroke="#000" stroke-width="1.5" />
<line x1="240.60" y1="537.80" x2="292.90" y2="534.50" stroke="#000" stroke-width="1.5" />
<line x1="240.60" y1="543.10" x2="292.90" y2="497.70" stroke="#000" stroke-width="1.5" />
<line x1="240.60" y1="545.50" x2="292.90" y2="525.20" stroke="#000" stroke-width="1.5" />
<line x1="240.60" y1="568.90" x2="292.90" y2="582.00" stroke="#000" stroke-width="1.5" />
<circle cx="240.60" cy="502.40" r="2.75" fill="#000"/>
<circle cx="292.90" cy="517.80" r="2.75" fill="#000"/>
<circle cx="240.60" cy="526.20" r="2.75" fill="#000"/>
<circle cx="292.90" cy="512.80" r="2.75" fill="#000"/>
<circle cx="240.60" cy="530.70" r="2.75" fill="#000"/>
<circle cx="292.90" cy="493.80" r="2.75" fill="#000"/>
<circle cx="240.60" cy="537.80" r="2.75" fill="#000"/>
<circle cx="292.90" cy="534.50" r="2.75" fill="#000"/>
<circle cx="240.60" cy="543.10" r="2.75" fill="#000"/>
<circle cx="292.90" cy="497.70" r="2.75" fill="#000"/>
<circle cx="240.60" cy="545.50" r="2.75" fill="#000"/>
<circle cx="292.90" cy="525.20" r="2.75" fill="#000"/>
<circle cx="240.60" cy="568.90" r="2.75" fill="#000"/>
<circle cx="292.90" cy="582.00" r="2.75" fill="#000"/>
<line x1="387.30" y1="472.90" x2="387.30" y2="607.00" stroke="#000" stroke-width="1.6" />
<line x1="386.50" y1="606.00" x2="491.80" y2="606.00" stroke="#000" stroke-width="1.6" />
<line x1="382.30" y1="472.90" x2="387.30" y2="472.90" stroke="#000" stroke-width="1.4" />
<text x="0" y="0" font-size="9.6" text-anchor="end" font-weight="bold" fill="#000" transform="translate(381.60 477.08) scale(1 1.18)" >2100</text>
<line x1="382.30" y1="517.50" x2="387.30" y2="517.50" stroke="#000" stroke-width="1.4" />
<text x="0" y="0" font-size="9.6" text-anchor="end" font-weight="bold" fill="#000" transform="translate(381.60 521.68) scale(1 1.18)" >1800</text>
<line x1="382.30" y1="562.10" x2="387.30" y2="562.10" stroke="#000" stroke-width="1.4" />
<text x="0" y="0" font-size="9.6" text-anchor="end" font-weight="bold" fill="#000" transform="translate(381.60 566.28) scale(1 1.18)" >1500</text>
<line x1="382.30" y1="606.50" x2="387.30" y2="606.50" stroke="#000" stroke-width="1.4" />
<text x="0" y="0" font-size="9.6" text-anchor="end" font-weight="bold" fill="#000" transform="translate(381.60 610.68) scale(1 1.18)" >1200</text>
<line x1="413.20" y1="606.00" x2="413.20" y2="610.50" stroke="#000" stroke-width="1.4" />
<line x1="465.50" y1="606.00" x2="465.50" y2="610.50" stroke="#000" stroke-width="1.4" />
<text x="414.70" y="624.20" font-size="10.6" text-anchor="middle" font-weight="bold" fill="#000" >before</text>
<text x="466.60" y="624.20" font-size="10.6" text-anchor="middle" font-weight="bold" fill="#000" >after</text>
<g transform="translate(353.80 539.65) rotate(-90)"><text x="0" y="0" font-size="11" text-anchor="middle" font-weight="bold" textLength="110" lengthAdjust="spacingAndGlyphs">FAox AUC (arb. units)</text></g>
<line x1="413.20" y1="495.90" x2="465.50" y2="568.00" stroke="#000" stroke-width="1.5" />
<line x1="413.20" y1="509.30" x2="465.50" y2="495.20" stroke="#000" stroke-width="1.5" />
<line x1="413.20" y1="514.00" x2="465.50" y2="544.60" stroke="#000" stroke-width="1.5" />
<line x1="413.20" y1="532.00" x2="465.50" y2="520.60" stroke="#000" stroke-width="1.5" />
<line x1="413.20" y1="556.20" x2="465.50" y2="520.60" stroke="#000" stroke-width="1.5" />
<line x1="413.20" y1="559.00" x2="465.50" y2="567.20" stroke="#000" stroke-width="1.5" />
<line x1="413.20" y1="591.80" x2="465.50" y2="569.00" stroke="#000" stroke-width="1.5" />
<circle cx="413.20" cy="495.90" r="2.75" fill="#000"/>
<circle cx="465.50" cy="568.00" r="2.75" fill="#000"/>
<circle cx="413.20" cy="509.30" r="2.75" fill="#000"/>
<circle cx="465.50" cy="495.20" r="2.75" fill="#000"/>
<circle cx="413.20" cy="514.00" r="2.75" fill="#000"/>
<circle cx="465.50" cy="544.60" r="2.75" fill="#000"/>
<circle cx="413.20" cy="532.00" r="2.75" fill="#000"/>
<circle cx="465.50" cy="520.60" r="2.75" fill="#000"/>
<circle cx="413.20" cy="556.20" r="2.75" fill="#000"/>
<circle cx="465.50" cy="520.60" r="2.75" fill="#000"/>
<circle cx="413.20" cy="559.00" r="2.75" fill="#000"/>
<circle cx="465.50" cy="567.20" r="2.75" fill="#000"/>
<circle cx="413.20" cy="591.80" r="2.75" fill="#000"/>
<circle cx="465.50" cy="569.00" r="2.75" fill="#000"/>
<circle cx="465.50" cy="573.40" r="2.75" fill="#000"/>
</svg></body></html>
